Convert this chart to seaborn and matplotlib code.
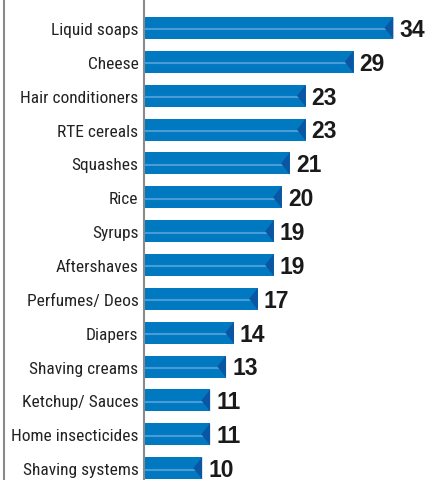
import matplotlib
matplotlib.use("Agg")
import matplotlib.pyplot as plt
import seaborn as sns
import pandas as pd
from matplotlib.patches import Polygon
from matplotlib.lines import Line2D

categories = ["Liquid soaps", "Cheese", "Hair conditioners", "RTE cereals", "Squashes",
              "Rice", "Syrups", "Aftershaves", "Perfumes/ Deos", "Diapers",
              "Shaving creams", "Ketchup/ Sauces", "Home insecticides", "Shaving systems"]
values = [34, 29, 23, 23, 21, 20, 19, 19, 17, 14, 13, 11, 11, 10]

df = pd.DataFrame({"category": categories, "value": values})

sns.set_style("white")
plt.rcParams["font.family"] = ["Roboto Condensed", "Archivo Narrow", "DejaVu Sans"]

fig = plt.figure(figsize=(4.3, 4.81), dpi=100)
ax = fig.add_axes([144 / 430, 0, 1 - 144 / 430, 1])

bar_h = 0.65
sns.barplot(data=df, x="value", y="category", orient="h", color="#0079c1",
            saturation=1, width=bar_h, ax=ax, edgecolor="none")

tip = 1.1
for i, v in enumerate(values):
    # light highlight stripe
    ax.hlines(i + 0.04, 0, v - tip * 0.45, color="#4a9cd6", lw=1.5, zorder=3)
    # darker tip triangle
    tri = Polygon([(v, i - bar_h / 2), (v, i + bar_h / 2), (v - tip, i)],
                  closed=True, facecolor="#0a56a3", edgecolor="none", zorder=4)
    ax.add_patch(tri)
    ax.text(v + 0.75, i + 0.04, str(v), va="center", ha="left",
            fontsize=16.5, fontweight="bold", color="#1a1a1a",
            family=["Liberation Sans", "DejaVu Sans"])

ax.set_xlim(2.7, 38.6)
ax.set_ylim(13.35, -0.857)
ax.set_xlabel("")
ax.set_ylabel("")
ax.set_xticks([])
ax.tick_params(axis="y", length=0, pad=4, labelsize=12.5, labelcolor="#222222")
for s in ["top", "right", "bottom"]:
    ax.spines[s].set_visible(False)
ax.spines["left"].set_color("#8a8a8a")
ax.spines["left"].set_linewidth(1.5)

fig.add_artist(Line2D([4 / 430, 4 / 430], [0, 1], color="#8a8a8a", lw=1.5,
                      transform=fig.transFigure))

fig.savefig("out.png", dpi=100)
